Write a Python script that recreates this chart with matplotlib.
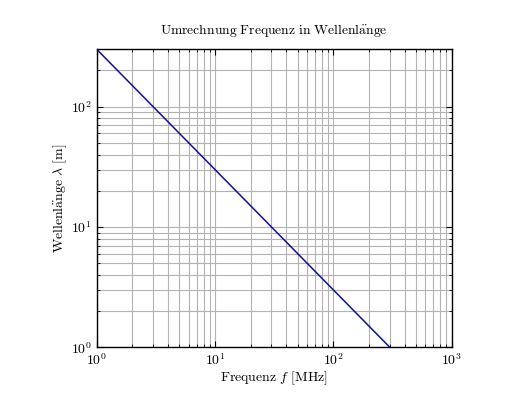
import matplotlib
matplotlib.use("Agg")
import matplotlib.pyplot as plt
import numpy as np

# data
freq_mhz = [1, 300]
wavelength_m = [300, 1]

plt.rcParams['font.family'] = ['cmr10', 'DejaVu Serif']
plt.rcParams['mathtext.fontset'] = 'cm'
plt.rcParams['axes.formatter.use_mathtext'] = True
plt.rcParams['axes.unicode_minus'] = False

fig = plt.figure(figsize=(5.18, 4.15), dpi=100)
ax = fig.add_axes([96.7/518, 1-347.3/415, (451.7-96.7)/518, (347.3-49.3)/415])

ax.plot(freq_mhz, wavelength_m, color='#10109a', lw=1.1, zorder=3)
ax.set_xscale('log')
ax.set_yscale('log')
ax.set_xlim(1, 1000)
ax.set_ylim(1, 300)
ax.grid(True, which='both', color='#b3b3b3', lw=0.8)
ax.tick_params(which='both', direction='in', top=True, right=True, labelsize=10)
ax.tick_params(which='major', length=4)
ax.tick_params(which='minor', length=2)
for s in ax.spines.values():
    s.set_linewidth(1.0)

ax.set_title(r'$\mathrm{Umrechnung\ Frequenz\ in\ Wellenl\ddot{a}nge}$', fontsize=9.8, pad=11)
ax.set_xlabel(r'$\mathrm{Frequenz}\ f\ \mathrm{[MHz]}$', fontsize=10, labelpad=1)
ax.set_ylabel(r'$\mathrm{Wellenl\ddot{a}nge}\ \lambda\ \mathrm{[m]}$', fontsize=10, labelpad=1)

fig.savefig('out.png', dpi=100)
